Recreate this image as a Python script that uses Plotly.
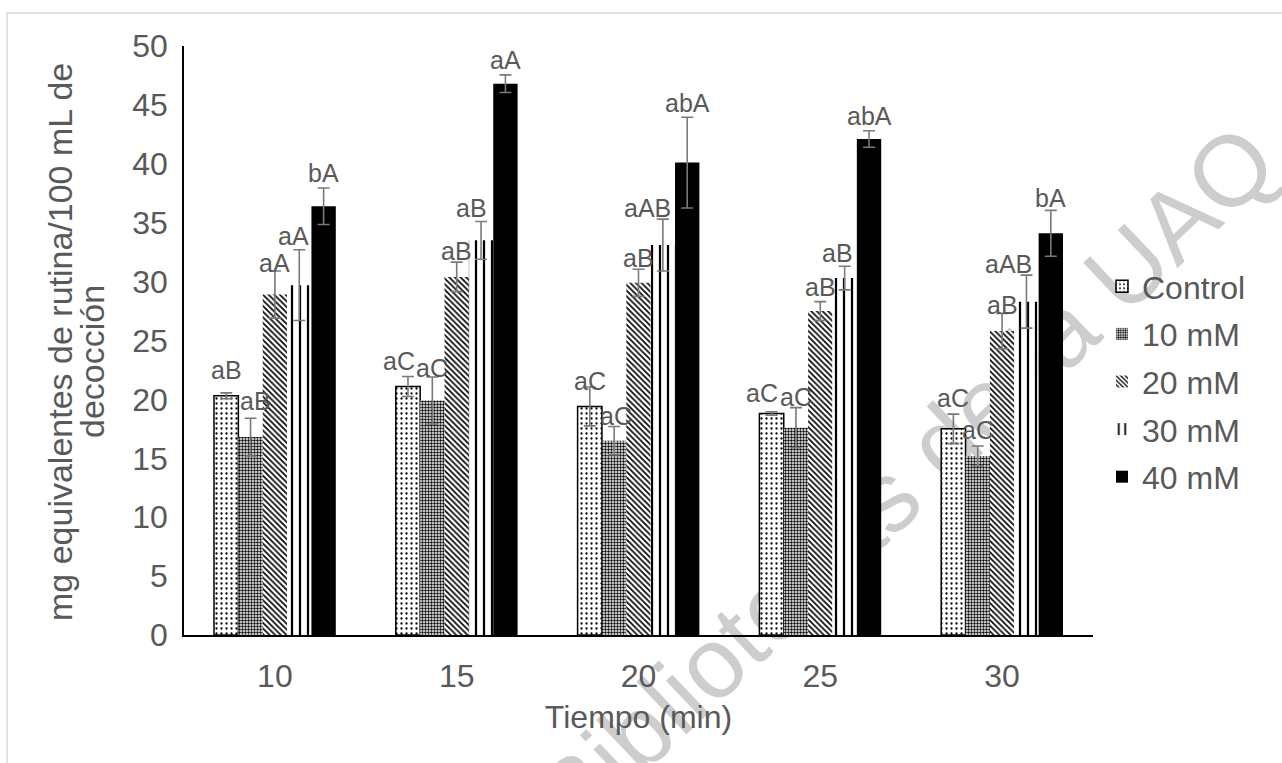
import base64
import math
import plotly.graph_objects as go

# Tiempo de decocción (min)
tiempos = ["10", "15", "20", "25", "30"]

series = ["Control", "10 mM", "20 mM", "30 mM", "40 mM"]

control = [20.3, 21.1, 19.4, 18.8, 17.5]
mm10 = [16.8, 19.9, 16.5, 17.6, 15.2]
mm20 = [28.9, 30.4, 29.9, 27.5, 25.8]
mm30 = [29.7, 33.5, 33.1, 30.3, 28.3]
mm40 = [36.4, 46.8, 40.1, 42.1, 34.1]

err_control = [0.25, 0.85, 1.65, 0.15, 1.25]
err_10 = [1.6, 2.0, 1.2, 1.7, 0.85]
err_20 = [2.0, 1.25, 1.15, 0.8, 1.5]
err_30 = [3.0, 1.6, 2.2, 1.0, 2.25]
err_40 = [1.55, 0.75, 3.85, 0.7, 1.95]

# letras de significancia
let_control = ["aB", "aC", "aC", "aC", "aC"]
let_10 = ["aB", "aC", "aC", "aC", "aC"]
let_20 = ["aA", "aB", "aB", "aB", "aB"]
let_30 = ["aA", "aB", "aAB", "aB", "aAB"]
let_40 = ["bA", "aA", "abA", "abA", "bA"]

values = [control, mm10, mm20, mm30, mm40]
errors = [err_control, err_10, err_20, err_30, err_40]
letters = [let_control, let_10, let_20, let_30, let_40]

# label nudges in px: (dx, height of label centre above the error cap)
nudges = [
    [(0, 23), (-9, 15), (0, 6), (-10, 19), (0, 16)],
    [(5, 17), (0, 9), (2, 10), (0, 11), (0, 16)],
    [(0, 8), (0, 11), (0, 11), (0, 15), (0, 8)],
    [(-6, 14), (-10, 14), (-15, 11), (-7, 13), (-18, 11)],
    [(0, 15), (0, 15), (0, 14), (0, 15), (0, 12)],
]

W, H = 1282, 763
ML, MR, MT, MB = 184, 189, 46, 128
PW, PH = W - ML - MR, H - MT - MB
BARGAP = 0.33
GREY = "#595959"
FONT = "Liberation Sans, Arial, sans-serif"


def hatch(shape, size, solidity):
    return dict(shape=shape, fgcolor="black", fgopacity=1, size=size,
                solidity=solidity, fillmode="overlay")


styles = [
    dict(color="white", line=dict(color="black", width=1.5), pattern=hatch(".", 5, 0.16)),
    dict(color="white", line=dict(color="black", width=0), pattern=hatch(".", 3, 0.5)),
    dict(color="white", line=dict(color="black", width=0), pattern=hatch("\\", 4, 0.4)),
    dict(color="white", line=dict(color="black", width=0), pattern=hatch("|", 8, 0.28)),
    dict(color="black", line=dict(color="black", width=0)),
]

fig = go.Figure()
for i, name in enumerate(series):
    fig.add_trace(go.Bar(
        x=tiempos, y=values[i], name=name,
        marker=styles[i],
        legendgroup=name,
        error_y=dict(type="data", array=errors[i], visible=True,
                     color="#7a7a7a", thickness=1.6, width=6),
    ))

# significance letters above each bar
n = len(series)
bw = (1 - BARGAP) / n
for i in range(n):
    for j, t in enumerate(tiempos):
        dx, dy = nudges[i][j]
        fig.add_annotation(
            x=j + (i - (n - 1) / 2) * bw, y=values[i][j] + errors[i][j],
            xref="x", yref="y", text=letters[i][j], showarrow=False,
            xshift=dx, yshift=dy, xanchor="center", yanchor="middle",
            font=dict(size=25, color=GREY, family=FONT),
        )


def px_x(p):
    return (p - ML) / PW


def px_y(p):
    return (H - MB - p) / PH


# y-axis title in two lines
fig.add_annotation(x=px_x(60), y=px_y(342), xref="paper", yref="paper",
                   text="mg equivalentes de rutina/100 mL de", textangle=-90,
                   showarrow=False, xanchor="center", yanchor="middle",
                   font=dict(size=34, color=GREY, family=FONT))
fig.add_annotation(x=px_x(92), y=px_y(362), xref="paper", yref="paper",
                   text="decocción", textangle=-90,
                   showarrow=False, xanchor="center", yanchor="middle",
                   font=dict(size=34, color=GREY, family=FONT))

# watermark drawn underneath the bars
wm_text = "Dirección General de Bibliotecas de la UAQ"
wm_size, wm_angle = 100, 43.5
ux, uy = 1127, 268          # centre of the "U"
back = 7.892 * wm_size      # distance from the "U" to the middle of the string
cx = ux - back * math.cos(math.radians(wm_angle))
cy = uy + back * math.sin(math.radians(wm_angle))
svg = (
    f"<svg xmlns='http://www.w3.org/2000/svg' width='{W}' height='{H}' viewBox='0 0 {W} {H}'>"
    f"<text x='{cx:.1f}' y='{cy:.1f}' transform='rotate(-{wm_angle} {cx:.1f} {cy:.1f})' "
    f"text-anchor='middle' dominant-baseline='central' "
    f"font-family='Liberation Sans, Arial, sans-serif' font-size='{wm_size}' "
    f"fill='#cdcdcd'>{wm_text}</text></svg>"
)
src = "data:image/svg+xml;base64," + base64.b64encode(svg.encode("utf-8")).decode("ascii")
fig.add_layout_image(dict(source=src, xref="paper", yref="paper",
                          x=px_x(0), y=px_y(0), sizex=W / PW, sizey=H / PH,
                          xanchor="left", yanchor="top", sizing="stretch", layer="below"))

# chart frame
fig.add_shape(type="rect", xref="paper", yref="paper",
              x0=px_x(7), y0=px_y(13), x1=px_x(W + 20), y1=px_y(H + 20),
              line=dict(color="#d9d9d9", width=1.5), fillcolor="rgba(0,0,0,0)", layer="below")

fig.update_layout(
    width=W, height=H, autosize=False,
    margin=dict(l=ML, r=MR, t=MT, b=MB, pad=0),
    barmode="group", bargap=BARGAP, bargroupgap=0,
    paper_bgcolor="white", plot_bgcolor="rgba(0,0,0,0)",
    font=dict(family=FONT, color=GREY, size=32),
    legend=dict(x=px_x(1102), y=px_y(259), xanchor="left", yanchor="top",
                font=dict(size=32, color=GREY, family=FONT),
                tracegroupgap=3, itemwidth=30, bgcolor="rgba(0,0,0,0)"),
    showlegend=True,
)
fig.update_xaxes(type="category", showline=True, linecolor="black", linewidth=1.5,
                 showgrid=False, ticks="", ticklabelstandoff=12,
                 tickfont=dict(size=32, color=GREY),
                 title=dict(text="Tiempo (min)", standoff=12, font=dict(size=32, color=GREY)))
fig.update_yaxes(range=[0, 50], dtick=5, showline=True, linecolor="black", linewidth=1.5,
                 showgrid=False, zeroline=False, ticks="", ticklabelstandoff=8,
                 tickfont=dict(size=32, color=GREY))

fig.write_html("out.html")
